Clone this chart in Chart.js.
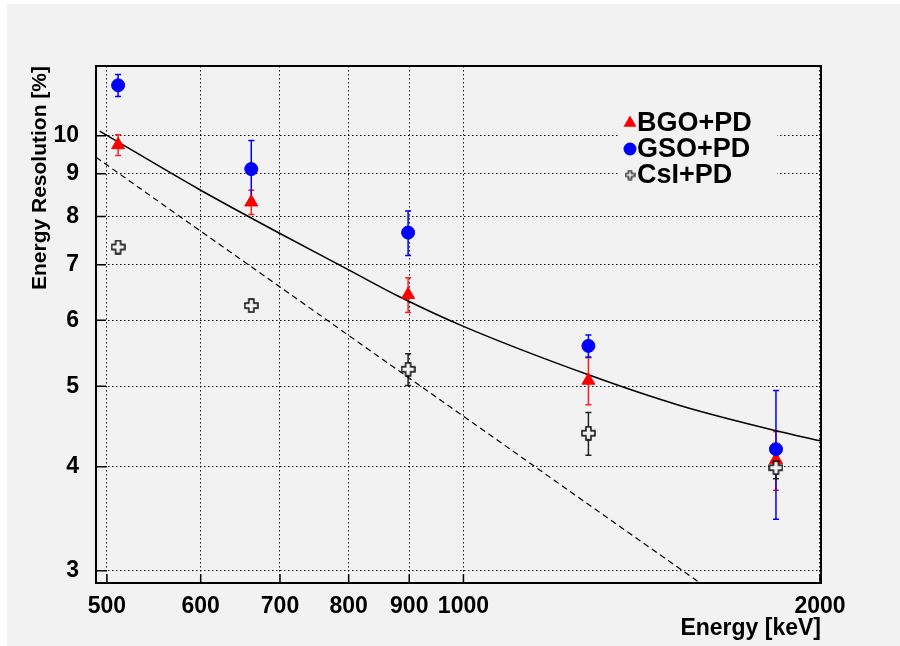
<!DOCTYPE html>
<html>
<head>
<meta charset="utf-8">
<script src="https://cdn.jsdelivr.net/npm/chart.js@4.4.0/dist/chart.umd.min.js"></script>
<style>
  html, body { margin: 0; padding: 0; background: #ffffff; }
  #wrap { width: 900px; height: 646px; }
</style>
</head>
<body>
<div id="wrap"><canvas id="chart" width="900" height="646"></canvas></div>
<script>
// gamma energies (keV)
const energies = [511, 662, 898, 1275, 1836];

// energy resolution (%) and errors per crystal
const bgo = [9.75, 8.32, 6.44, 5.08, 4.08];
const bgoErr = [0.28, 0.28, 0.31, 0.33, 0.33];
const gso = [11.5, 9.12, 7.65, 5.59, 4.2];
const gsoErr = [0.35, 0.75, 0.47, 0.17, 0.74];
const csi = [7.35, 6.25, 5.24, 4.39, 3.99];
const csiErr = [0, 0, 0.23, 0.26, 0.12];

// solid curve
const fitE = [493, 600, 700, 800, 884, 1000, 1275, 1523, 1836, 2000];
const fitRes = [10.13, 8.6, 7.63, 6.9, 6.4, 5.9, 5.16, 4.74, 4.42, 4.3];

// dashed line
const dashE = [489.5, 1584];
const dashRes = [9.42, 2.9];

const xTicks = [500, 600, 700, 800, 900, 1000, 2000];
const yTicks = [3, 4, 5, 6, 7, 8, 9, 10];

const BG = "#f2f2f2";
const FONT = "'Liberation Sans', Arial, Helvetica, sans-serif";

function makeCross(size, lw) {
  const c = document.createElement("canvas");
  c.width = size; c.height = size;
  const g = c.getContext("2d");
  const o = 1, e = size - 1;
  const a = Math.round(size * 0.36), b = size - a;
  g.beginPath();
  g.moveTo(a, o); g.lineTo(b, o); g.lineTo(b, a); g.lineTo(e, a);
  g.lineTo(e, b); g.lineTo(b, b); g.lineTo(b, e); g.lineTo(a, e);
  g.lineTo(a, b); g.lineTo(o, b); g.lineTo(o, a); g.lineTo(a, a);
  g.closePath();
  g.fillStyle = BG;
  g.fill();
  g.strokeStyle = "#000";
  g.lineWidth = lw;
  g.stroke();
  return c;
}
const crossBig = makeCross(15, 1.4);
const crossSmall = makeCross(11, 1.2);

const toPts = (xs, ys) => xs.map((x, i) => ({ x: x, y: ys[i] }));

const bgPlugin = {
  id: "bg",
  beforeDraw(chart) {
    const c = chart.ctx;
    c.save();
    c.fillStyle = "#ffffff";
    c.fillRect(0, 0, chart.width, chart.height);
    c.fillStyle = BG;
    c.fillRect(7, 4, chart.width - 7, chart.height - 4);
    c.restore();
  }
};

const errPlugin = {
  id: "errbars",
  beforeDatasetsDraw(chart) {
    const c = chart.ctx;
    const ys = chart.scales.y;
    chart.data.datasets.forEach((ds, i) => {
      if (!ds.errs) return;
      const meta = chart.getDatasetMeta(i);
      c.save();
      c.strokeStyle = ds.errColor;
      c.lineWidth = 1.5;
      meta.data.forEach((pt, j) => {
        const err = ds.errs[j];
        if (!err) return;
        const v = ds.data[j].y;
        const top = ys.getPixelForValue(v + err);
        const bot = ys.getPixelForValue(v - err);
        c.beginPath();
        c.moveTo(pt.x, top); c.lineTo(pt.x, bot);
        c.moveTo(pt.x - 3, top); c.lineTo(pt.x + 3, top);
        c.moveTo(pt.x - 3, bot); c.lineTo(pt.x + 3, bot);
        c.stroke();
      });
      c.restore();
    });
  }
};

const framePlugin = {
  id: "frame",
  afterDatasetsDraw(chart) {
    const c = chart.ctx;
    const a = chart.chartArea;
    const xs = chart.scales.x, ys = chart.scales.y;
    c.save();
    // inward tick marks
    c.strokeStyle = "#000";
    c.lineWidth = 1.5;
    c.beginPath();
    yTicks.forEach(v => {
      const y = ys.getPixelForValue(v);
      c.moveTo(a.left, y); c.lineTo(a.left + 10, y);
    });
    xTicks.forEach(v => {
      const x = xs.getPixelForValue(v);
      c.moveTo(x, a.bottom); c.lineTo(x, a.bottom - 9);
    });
    c.stroke();
    // frame
    c.lineWidth = 2;
    c.strokeRect(a.left, a.top, a.right - a.left, a.bottom - a.top);

    // legend
    c.fillStyle = BG;
    c.fillRect(620, 102, 157, 90);
    const rows = [
      { label: "BGO+PD", style: "triangle", color: "#ff0000" },
      { label: "GSO+PD", style: "circle", color: "#0000ff" },
      { label: "CsI+PD", style: "cross", color: "#000" }
    ];
    c.font = "bold 27px " + FONT;
    c.textBaseline = "middle";
    c.textAlign = "left";
    rows.forEach((r, i) => {
      const y = 123 + i * 26;
      if (r.style === "cross") {
        c.drawImage(crossSmall, 630 - 5.5, y - 5.5);
      } else {
        c.fillStyle = r.color;
        c.strokeStyle = r.color;
        Chart.helpers.drawPoint(c, { pointStyle: r.style, radius: 5.5, rotation: 0, borderWidth: 1 }, 630, y);
      }
      c.fillStyle = "#000";
      c.fillText(r.label, 637, y + 1);
    });
    c.restore();
  }
};

const ctx = document.getElementById("chart").getContext("2d");

new Chart(ctx, {
  type: "scatter",
  data: {
    datasets: [
      {
        label: "BGO+PD",
        data: toPts(energies, bgo),
        errs: bgoErr,
        errColor: "#ff2020",
        pointStyle: "triangle",
        pointRadius: 7.5,
        backgroundColor: "#ff0000",
        borderColor: "#ff0000",
        borderWidth: 1,
        order: 3
      },
      {
        label: "GSO+PD",
        data: toPts(energies, gso),
        errs: gsoErr,
        errColor: "#0000ff",
        pointStyle: "circle",
        pointRadius: 6.5,
        backgroundColor: "#0000ff",
        borderColor: "#0000ff",
        borderWidth: 1,
        order: 2
      },
      {
        label: "CsI+PD",
        data: toPts(energies, csi),
        errs: csiErr,
        errColor: "#202020",
        pointStyle: crossBig,
        pointRadius: 7,
        order: 1
      },
      {
        type: "line",
        label: "fit",
        data: toPts(fitE, fitRes),
        borderColor: "#000",
        borderWidth: 1.5,
        pointRadius: 0,
        cubicInterpolationMode: "monotone",
        fill: false,
        order: 4
      },
      {
        type: "line",
        label: "scaling",
        data: toPts(dashE, dashRes),
        borderColor: "#000",
        borderWidth: 1.2,
        borderDash: [6, 4],
        pointRadius: 0,
        fill: false,
        order: 5
      }
    ]
  },
  options: {
    responsive: false,
    animation: false,
    layout: { padding: { left: 7, top: 66, right: 79, bottom: 4 } },
    plugins: {
      legend: { display: false },
      tooltip: { enabled: false }
    },
    scales: {
      x: {
        type: "logarithmic",
        min: 489.5,
        max: 2004,
        afterBuildTicks: s => { s.ticks = xTicks.map(v => ({ value: v })); },
        afterFit: s => { s.height = 59; },
        grid: { color: "#000", lineWidth: 1, drawTicks: false },
        border: { display: false, dash: [1.5, 2.5] },
        ticks: {
          autoSkip: false,
          maxRotation: 0,
          padding: 10,
          color: "#000",
          font: { family: FONT, size: 23, weight: "bold" },
          callback: v => String(v)
        },
        title: {
          display: true,
          text: "Energy [keV]",
          align: "end",
          color: "#000",
          padding: { top: 0, bottom: 0 },
          font: { family: FONT, size: 23, weight: "bold" }
        }
      },
      y: {
        type: "logarithmic",
        min: 2.9,
        max: 12.13,
        afterBuildTicks: s => { s.ticks = yTicks.map(v => ({ value: v })); },
        afterFit: s => { s.width = 89; },
        grid: { color: "#000", lineWidth: 1, drawTicks: false },
        border: { display: false, dash: [1.5, 2.5] },
        ticks: {
          padding: 17,
          color: "#000",
          font: { family: FONT, size: 23, weight: "bold" },
          callback: v => String(v)
        },
        title: {
          display: true,
          text: "Energy Resolution [%]",
          align: "end",
          color: "#000",
          padding: { top: 21, bottom: 0 },
          font: { family: FONT, size: 21, weight: "bold" }
        }
      }
    }
  },
  plugins: [bgPlugin, errPlugin, framePlugin]
});
</script>
</body>
</html>
